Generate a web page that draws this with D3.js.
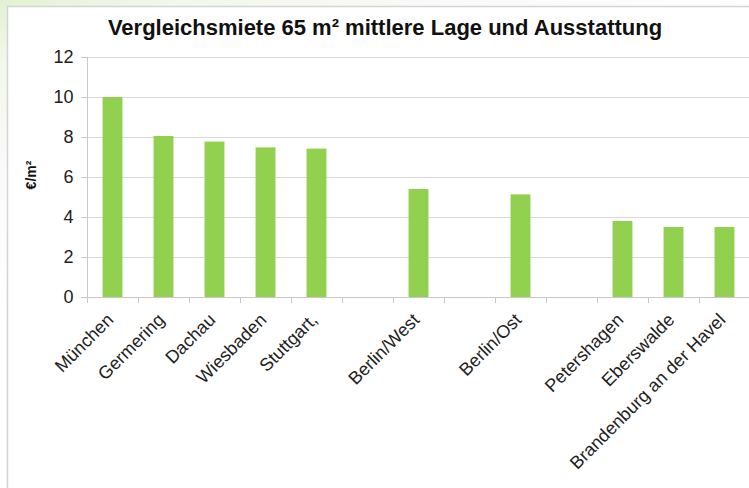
<!DOCTYPE html>
<html>
<head>
<meta charset="utf-8">
<script src="https://cdn.jsdelivr.net/npm/d3@7"></script>
<style>
  html, body { margin: 0; padding: 0; }
  body { width: 749px; height: 488px; overflow: hidden;
    background: linear-gradient(160deg, #e3f1d2 0px, #f2f8ea 60px, #fafafa 160px, #ffffff 300px); }
  svg { display: block; }
  text { font-family: "Liberation Sans", Arial, sans-serif; }
</style>
</head>
<body>
<svg id="chart" width="749" height="488"></svg>
<script>
const categories = ["München", "Germering", "Dachau", "Wiesbaden", "Stuttgart,", "", "Berlin/West", "", "Berlin/Ost", "", "Petershagen", "Eberswalde", "Brandenburg an der Havel"];
const values = [10.0, 8.05, 7.77, 7.48, 7.42, null, 5.4, null, 5.13, null, 3.8, 3.5, 3.5];
const yTicks = [0, 2, 4, 6, 8, 10, 12];
const title = "Vergleichsmiete 65 m² mittlere Lage und Ausstattung";
const yLabel = "€/m²";

const svg = d3.select("#chart");

// chart frame
svg.append("rect").attr("x", 7.5).attr("y", 6.5).attr("width", 760).attr("height", 500)
  .attr("fill", "#ffffff").attr("stroke", "#d4d4d4").attr("stroke-width", 1.5);

const idx = categories.map((d, i) => i);
const x = d3.scaleBand().domain(idx).range([87, 750]).paddingInner(0.61).paddingOuter(0.305);
const xb = d3.scaleBand().domain(idx).range([87, 750]);
const y = d3.scaleLinear().domain([0, 12]).range([297, 57]);

// gridlines
svg.append("g").selectAll("line").data(yTicks.filter(t => t > 0)).join("line")
  .attr("x1", 81).attr("x2", 750)
  .attr("y1", d => Math.round(y(d)) + 0.5).attr("y2", d => Math.round(y(d)) + 0.5)
  .attr("stroke", "#d9d9d9").attr("stroke-width", 1);

// y axis
const yAxis = d3.axisLeft(y).tickValues(yTicks).tickSize(6).tickPadding(8);
const gy = svg.append("g").attr("transform", "translate(87.5,0)").call(yAxis);
gy.select(".domain").attr("stroke", "#c8c8c8").attr("d", "M0,57V297");
gy.selectAll(".tick line").attr("stroke", "#c8c8c8");
gy.selectAll(".tick text").attr("font-size", 18).attr("fill", "#222");

// bars
svg.append("g").selectAll("rect").data(idx.filter(i => values[i] != null)).join("rect")
  .attr("x", i => x(i)).attr("width", x.bandwidth())
  .attr("y", i => y(values[i])).attr("height", i => y(0) - y(values[i]))
  .attr("fill", "#92d050");

// x axis line & ticks
svg.append("line").attr("x1", 81).attr("x2", 750).attr("y1", 297.5).attr("y2", 297.5)
  .attr("stroke", "#c8c8c8");
svg.append("g").selectAll("line").data(idx).join("line")
  .attr("x1", i => Math.round(xb(i)) + 0.5).attr("x2", i => Math.round(xb(i)) + 0.5)
  .attr("y1", 297).attr("y2", 303).attr("stroke", "#c8c8c8");

// x labels
svg.append("g").selectAll("text").data(idx.filter(i => categories[i])).join("text")
  .attr("transform", i => `translate(${xb(i) + xb.bandwidth() / 2 + 2},${321}) rotate(-45)`)
  .attr("text-anchor", "end").attr("font-size", 18).attr("fill", "#222")
  .text(i => categories[i]);

// title
svg.append("text").attr("x", 385).attr("y", 35).attr("text-anchor", "middle")
  .attr("font-size", 22).attr("font-weight", "bold").attr("fill", "#111").text(title);

// y label
svg.append("text").attr("transform", "translate(36,175) rotate(-90)")
  .attr("text-anchor", "middle").attr("font-size", 14).attr("font-weight", "bold")
  .attr("fill", "#111").text(yLabel);
</script>
</body>
</html>
